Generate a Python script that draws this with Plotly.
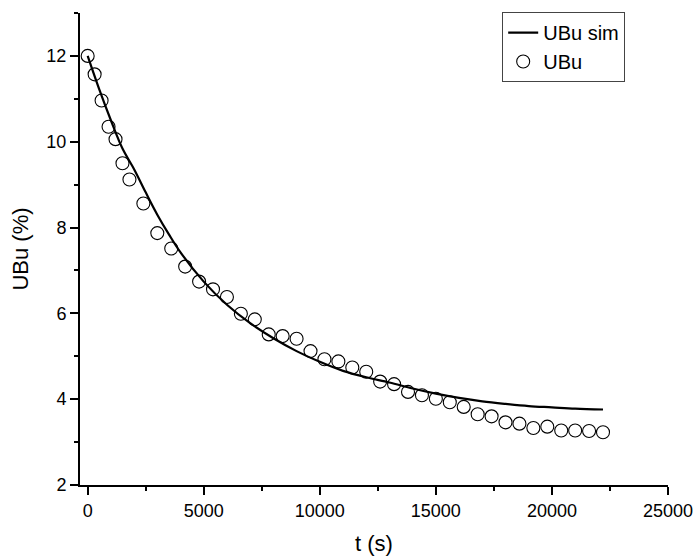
import plotly.graph_objects as go

# Experimental data (UBu)
t_exp = [0, 300, 600, 900, 1200, 1500, 1800, 2400, 3000, 3600, 4200, 4800, 5400, 6000,
         6600, 7200, 7800, 8400, 9000, 9600, 10200, 10800, 11400, 12000, 12600, 13200,
         13800, 14400, 15000, 15600, 16200, 16800, 17400, 18000, 18600, 19200, 19800,
         20400, 21000, 21600, 22200]
ubu_exp = [12.0, 11.57, 10.96, 10.35, 10.06, 9.50, 9.12, 8.56, 7.87, 7.51, 7.09, 6.74,
           6.56, 6.38, 5.99, 5.86, 5.51, 5.47, 5.41, 5.12, 4.93, 4.88, 4.74, 4.64, 4.41,
           4.35, 4.17, 4.09, 4.01, 3.93, 3.82, 3.65, 3.60, 3.46, 3.43, 3.33, 3.36, 3.27,
           3.27, 3.26, 3.23]

# Simulated curve (UBu sim)
t_sim = [0, 500, 1000, 1500, 2000, 2500, 3000, 3500, 4000, 5000, 6000, 7000, 8000, 9000,
         10000, 11000, 12000, 13000, 14000, 15000, 16000, 17000, 18000, 19000, 20000,
         21000, 22200]
ubu_sim = [12.0, 11.22, 10.5, 9.84, 9.36, 8.82, 8.3, 7.84, 7.42, 6.74, 6.2, 5.77, 5.42,
           5.12, 4.87, 4.66, 4.51, 4.39, 4.25, 4.13, 4.03, 3.95, 3.89, 3.84, 3.81, 3.78, 3.76]

# Tick labels
x_tickvals = [0, 5000, 10000, 15000, 20000, 25000]
x_ticktext = ["0", "5000", "10000", "15000", "20000", "25000"]
y_tickvals = [2, 4, 6, 8, 10, 12]
y_ticktext = ["2", "4", "6", "8", "10", "12"]

FONT = "Liberation Sans, Arial, sans-serif"

fig = go.Figure()
fig.add_trace(go.Scatter(
    x=t_sim, y=ubu_sim, mode="lines", name="UBu sim",
    line=dict(color="black", width=2.2, shape="spline"),
))
fig.add_trace(go.Scatter(
    x=t_exp, y=ubu_exp, mode="markers", name="UBu",
    marker=dict(symbol="circle-open", size=13, color="black", line=dict(width=1.1, color="black")),
))

axis_common = dict(
    showgrid=False, zeroline=False, showline=True, linecolor="black", linewidth=2,
    ticks="outside", ticklen=8, tickwidth=2, tickcolor="black",
    tickfont=dict(family=FONT, size=18, color="black"),
    automargin=False,
)

fig.update_layout(
    width=699, height=560,
    margin=dict(l=80, r=31, t=13, b=75),
    plot_bgcolor="white", paper_bgcolor="white",
    font=dict(family=FONT, color="black"),
    showlegend=True,
    legend=dict(
        x=0.718, y=1.002, xanchor="left", yanchor="top",
        bordercolor="#444", borderwidth=1, bgcolor="white",
        font=dict(family=FONT, size=20, color="black"),
        itemwidth=30, tracegroupgap=0,
    ),
    xaxis=dict(
        **axis_common,
        range=[-330, 25000], tickvals=x_tickvals, ticktext=x_ticktext,
        minor=dict(ticks="outside", ticklen=4, tickwidth=2, tickcolor="black", dtick=2500, tick0=0),
        title=dict(text="t (s)", font=dict(family=FONT, size=22, color="black"), standoff=16),
    ),
    yaxis=dict(
        **axis_common,
        range=[2, 13], tickvals=y_tickvals, ticktext=y_ticktext,
        minor=dict(ticks="outside", ticklen=4, tickwidth=2, tickcolor="black", dtick=1, tick0=1),
        title=dict(text="UBu (%)", font=dict(family=FONT, size=22, color="black"), standoff=12),
    ),
)

fig.write_html("out.html")
